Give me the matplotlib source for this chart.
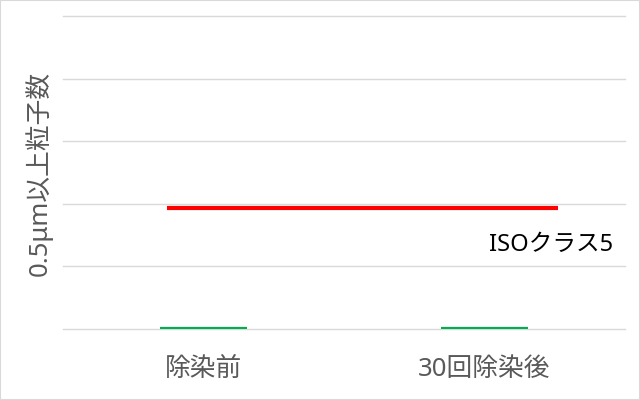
import matplotlib.pyplot as plt
from matplotlib.patches import Rectangle

plt.rcParams['font.family'] = ['Noto Sans', 'Noto Sans CJK JP', 'DejaVu Sans']

# data
categories = ["除染前", "30回除染後"]
counts = [0.02, 0.02]          # 粒子数 (ほぼゼロ)
iso_level = 1.93                # ISOクラス5 の基準
iso_span = [-0.13, 1.26]        # 基準線の横範囲
iso_label = "ISOクラス5"
ylabel = "0.5μm以上粒子数"
grid_vals = [0, 1, 2, 3, 4, 5]

fig = plt.figure(figsize=(6.4, 4.0), dpi=100)
ax = fig.add_axes([63 / 640, 71 / 400, 562 / 640, 313 / 400])

# 各カテゴリの値（細い緑線）
for i, v in enumerate(counts):
    ax.hlines(v, i - 0.155, i + 0.155, color="#00b050", lw=1.6, zorder=3)

# 基準線
ax.hlines(iso_level, iso_span[0], iso_span[1], color="#ff0000", lw=3.0, zorder=4)
ax.text(1.237, iso_level - 0.59, iso_label, ha="center", va="center",
        fontsize=17, color="black")

ax.set_xlim(-0.5, 1.5)
ax.set_ylim(grid_vals[0], grid_vals[-1])
ax.set_yticks(grid_vals)
ax.set_yticklabels([])
ax.tick_params(axis="y", length=0)
ax.grid(axis="y", color="#d9d9d9", lw=1)
for gl in ax.get_ygridlines():
    gl.set_clip_on(False)
ax.set_axisbelow(True)

ax.set_xticks(range(len(categories)))
ax.set_xticklabels(categories, fontsize=18.5, color="#595959")
ax.tick_params(axis="x", length=0, pad=20)

ax.set_ylabel(ylabel, fontsize=18.5, color="#595959")
ax.yaxis.set_label_coords(-10 / 562, (329 - 173) / 313)
for s in ax.spines.values():
    s.set_visible(False)

fig.patches.append(Rectangle((0, 0), 1, 1, transform=fig.transFigure,
                             fill=False, edgecolor="#d9d9d9", lw=1.5))

fig.savefig("out.png", dpi=100)
